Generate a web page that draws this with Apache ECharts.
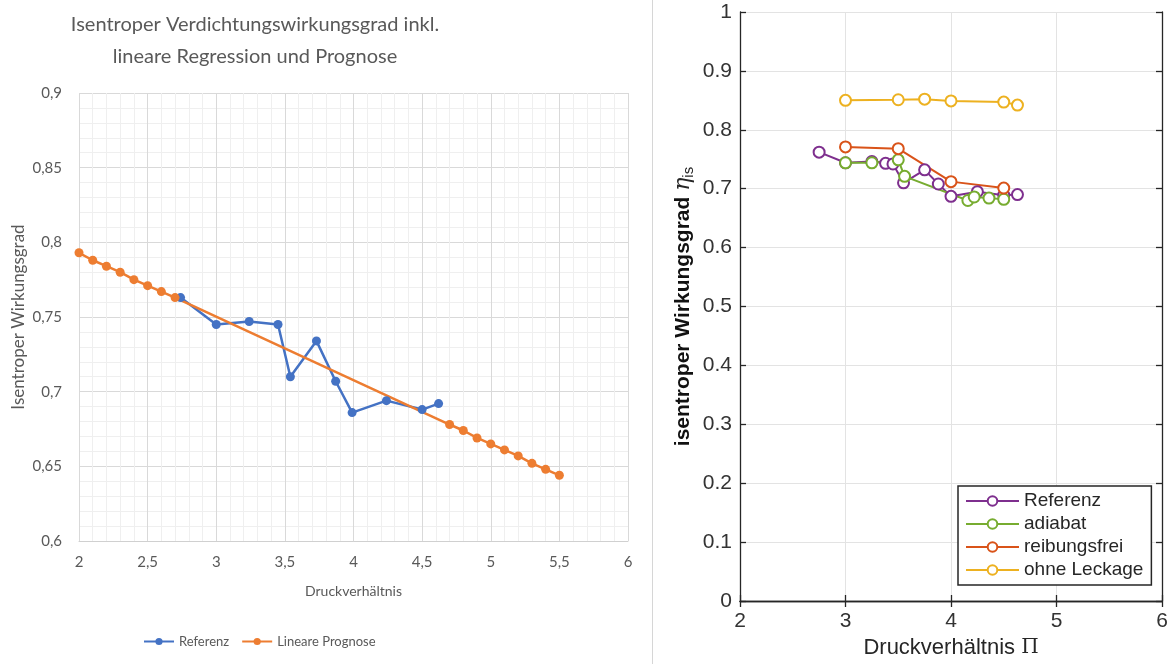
<!DOCTYPE html>
<html>
<head>
<meta charset="utf-8">
<script src="https://cdn.jsdelivr.net/npm/echarts@6/dist/echarts.min.js"></script>
<style>
  html, body { margin: 0; padding: 0; background: #ffffff; }
  #chart { width: 1176px; height: 664px; }
</style>
</head>
<body>
<div id="chart"></div>
<script>
// Left panel: measured efficiency and linear forecast
const refX = [2.74, 3.00, 3.24, 3.45, 3.54, 3.73, 3.87, 3.99, 4.24, 4.50, 4.62];
const refY = [0.763, 0.745, 0.747, 0.745, 0.710, 0.734, 0.707, 0.686, 0.694, 0.688, 0.692];
const progX = [2.0, 2.1, 2.2, 2.3, 2.4, 2.5, 2.6, 2.7, 4.7, 4.8, 4.9, 5.0, 5.1, 5.2, 5.3, 5.4, 5.5];
const progY = [0.793, 0.788, 0.784, 0.780, 0.775, 0.771, 0.767, 0.763, 0.678, 0.674, 0.669, 0.665, 0.661, 0.657, 0.652, 0.648, 0.644];

// Right panel: simulated variants
const referenzX = [2.75, 3.00, 3.25, 3.38, 3.45, 3.55, 3.75, 3.88, 4.00, 4.25, 4.50, 4.63];
const referenzY = [0.762, 0.744, 0.746, 0.743, 0.742, 0.710, 0.732, 0.708, 0.687, 0.695, 0.689, 0.690];
const adiabatX = [3.00, 3.25, 3.50, 3.56, 4.16, 4.22, 4.36, 4.50];
const adiabatY = [0.744, 0.744, 0.749, 0.721, 0.680, 0.686, 0.684, 0.682];
const reibungsfreiX = [3.00, 3.50, 4.00, 4.50];
const reibungsfreiY = [0.771, 0.768, 0.712, 0.701];
const leckageX = [3.00, 3.50, 3.75, 4.00, 4.50, 4.63];
const leckageY = [0.850, 0.851, 0.852, 0.849, 0.847, 0.842];

const pairs = (xs, ys) => xs.map((x, i) => [x, ys[i]]);
const comma = v => String(+v.toFixed(2)).replace('.', ',');

const xlFont = 'Lato, "Open Sans", sans-serif';
const xlGray = '#595959';
const mlFont = '"Liberation Sans", Arial, sans-serif';
const mlDark = '#262626';
const serif = '"DejaVu Serif", "Liberation Serif", serif';

const chart = echarts.init(document.getElementById('chart'), null, { renderer: 'canvas' });

const mlSeries = (name, color, xs, ys) => ({
  name, type: 'line', xAxisIndex: 1, yAxisIndex: 1,
  data: pairs(xs, ys),
  symbol: 'emptyCircle', symbolSize: 11,
  lineStyle: { color, width: 2 },
  itemStyle: { color, borderColor: color, borderWidth: 2 },
  emphasis: { disabled: true }
});

chart.setOption({
  animation: false,
  backgroundColor: '#ffffff',
  graphic: [
    {
      type: 'text', x: 255, y: 9,
      style: {
        text: 'Isentroper Verdichtungswirkungsgrad inkl.\nlineare Regression und Prognose',
        textAlign: 'center', fill: xlGray, font: '20px ' + xlFont, lineHeight: 32
      }
    },
    {
      type: 'line', shape: { x1: 652.5, y1: 0, x2: 652.5, y2: 664 },
      style: { stroke: '#d6d6d6', lineWidth: 1 }
    }
  ],
  legend: [
    {
      data: ['Referenz', 'Lineare Prognose'],
      left: 143, top: 635, padding: 0,
      itemWidth: 30, itemHeight: 9, itemGap: 12,
      textStyle: { color: xlGray, fontFamily: xlFont, fontSize: 13 }
    },
    {
      data: ['Referenz ', 'adiabat', 'reibungsfrei', 'ohne Leckage'],
      orient: 'vertical', left: 958, top: 486,
      padding: [5, 8, 5, 7],
      itemWidth: 53, itemHeight: 12, itemGap: 3,
      borderColor: mlDark, borderWidth: 1.5, backgroundColor: '#ffffff',
      textStyle: { color: mlDark, fontFamily: mlFont, fontSize: 19, lineHeight: 20 }
    }
  ],
  grid: [
    { left: 79, right: 548, top: 93, bottom: 123 },
    { left: 740, right: 14, top: 12, bottom: 63 }
  ],
  xAxis: [
    {
      type: 'value', gridIndex: 0, min: 2, max: 6, interval: 0.5,
      name: 'Druckverhältnis', nameLocation: 'middle', nameGap: 43,
      nameTextStyle: { color: xlGray, fontFamily: xlFont, fontSize: 14 },
      axisLine: { show: true, lineStyle: { color: '#d0d0d0', width: 1 } },
      axisTick: { show: false },
      axisLabel: { color: xlGray, fontFamily: xlFont, fontSize: 15, margin: 14, formatter: comma },
      splitLine: { show: true, lineStyle: { color: '#d9d9d9', width: 1 } },
      minorTick: { show: false, splitNumber: 5 },
      minorSplitLine: { show: true, lineStyle: { color: '#efefef', width: 1 } }
    },
    {
      type: 'value', gridIndex: 1, min: 2, max: 6, interval: 1,
      name: 'Druckverhältnis {p|Π}', nameLocation: 'middle', nameGap: 36,
      nameTextStyle: {
        color: mlDark, fontFamily: mlFont, fontSize: 22,
        rich: { p: { fontFamily: serif, fontSize: 20, color: mlDark } }
      },
      axisLine: { show: true, lineStyle: { color: mlDark, width: 1.3 } },
      axisTick: { show: true, inside: true, length: 6, lineStyle: { color: mlDark, width: 1.3 } },
      axisLabel: { color: '#333333', fontFamily: mlFont, fontSize: 21, margin: 10 },
      splitLine: { show: true, lineStyle: { color: '#e3e3e3', width: 1 } }
    },
    {
      type: 'value', gridIndex: 1, position: 'top', min: 2, max: 6, interval: 1,
      axisLine: { show: true, lineStyle: { color: mlDark, width: 1.3 } },
      axisTick: { show: true, inside: true, length: 6, lineStyle: { color: mlDark, width: 1.3 } },
      axisLabel: { show: false },
      splitLine: { show: false }
    }
  ],
  yAxis: [
    {
      type: 'value', gridIndex: 0, min: 0.6, max: 0.9, interval: 0.05,
      name: 'Isentroper Wirkungsgrad', nameLocation: 'middle', nameGap: 52,
      nameTextStyle: { color: xlGray, fontFamily: xlFont, fontSize: 17 },
      axisLine: { show: false },
      axisTick: { show: false },
      axisLabel: { color: xlGray, fontFamily: xlFont, fontSize: 15, margin: 17, formatter: comma },
      splitLine: { show: true, lineStyle: { color: '#d9d9d9', width: 1 } },
      minorTick: { show: false, splitNumber: 5 },
      minorSplitLine: { show: true, lineStyle: { color: '#efefef', width: 1 } }
    },
    {
      type: 'value', gridIndex: 1, min: 0, max: 1, interval: 0.1,
      name: '{a|isentroper Wirkungsgrad }{e|η}{s|is}', nameLocation: 'middle', nameGap: 44,
      nameTextStyle: {
        rich: {
          a: { color: '#111111', fontFamily: mlFont, fontSize: 21, fontWeight: 'bold' },
          e: { color: mlDark, fontFamily: serif, fontStyle: 'italic', fontSize: 22 },
          s: { color: mlDark, fontFamily: mlFont, fontSize: 15, padding: [11, 0, 0, 0] }
        }
      },
      axisLine: { show: true, lineStyle: { color: mlDark, width: 1.3 } },
      axisTick: { show: true, inside: true, length: 6, lineStyle: { color: mlDark, width: 1.3 } },
      axisLabel: { color: '#333333', fontFamily: mlFont, fontSize: 21, margin: 8 },
      splitLine: { show: true, lineStyle: { color: '#e3e3e3', width: 1 } }
    },
    {
      type: 'value', gridIndex: 1, position: 'right', min: 0, max: 1, interval: 0.1,
      axisLine: { show: true, lineStyle: { color: mlDark, width: 1.3 } },
      axisTick: { show: true, inside: true, length: 6, lineStyle: { color: mlDark, width: 1.3 } },
      axisLabel: { show: false },
      splitLine: { show: false }
    }
  ],
  series: [
    {
      name: 'Referenz', type: 'line', xAxisIndex: 0, yAxisIndex: 0,
      data: pairs(refX, refY),
      symbol: 'circle', symbolSize: 9,
      lineStyle: { color: '#4472C4', width: 2.5 },
      itemStyle: { color: '#4472C4' },
      emphasis: { disabled: true }
    },
    {
      name: 'Lineare Prognose', type: 'line', xAxisIndex: 0, yAxisIndex: 0,
      data: pairs(progX, progY),
      symbol: 'circle', symbolSize: 9,
      lineStyle: { color: '#ED7D31', width: 2.5 },
      itemStyle: { color: '#ED7D31' },
      emphasis: { disabled: true }
    },
    mlSeries('Referenz ', '#7E2F8E', referenzX, referenzY),
    mlSeries('adiabat', '#77AC30', adiabatX, adiabatY),
    mlSeries('reibungsfrei', '#D95319', reibungsfreiX, reibungsfreiY),
    mlSeries('ohne Leckage', '#EDB120', leckageX, leckageY)
  ]
});
</script>
</body>
</html>
